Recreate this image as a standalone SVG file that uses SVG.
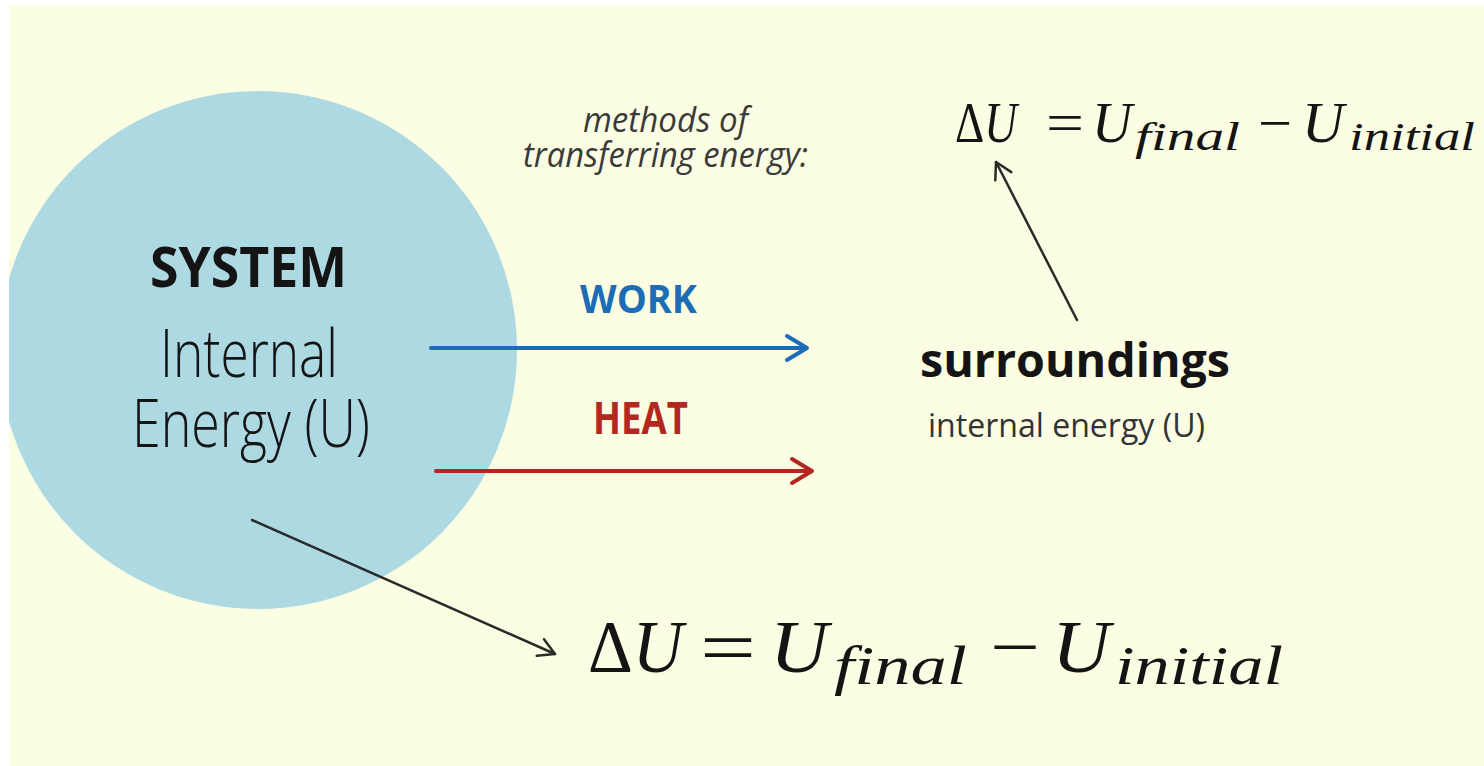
<svg xmlns="http://www.w3.org/2000/svg" width="1484" height="766" viewBox="0 0 1484 766">
<style>
.sans{font-family:"Open Sans","Liberation Sans",sans-serif}
.bold{font-weight:700}
.light{font-weight:300}
.math{font-family:"Liberation Serif","DejaVu Serif",serif}
.it{font-style:italic}
.dark{fill:#141414}
.conn{fill:none;stroke-linecap:round;stroke-linejoin:round}
</style>
<defs>
<marker id="hDark" markerWidth="8" markerHeight="10" refX="0" refY="0" orient="auto" markerUnits="userSpaceOnUse" overflow="visible">
<path d="M-16,-9 L0,0 L-16,9" fill="none" stroke="#2a2a2a" stroke-width="2.5" stroke-linecap="round" stroke-linejoin="round"/>
</marker>
</defs>
<rect x="0" y="0" width="1484" height="766" fill="#FCFEE4"/>
<g id="system">
<circle cx="258" cy="350" r="259" fill="#ADD9E2"/>
<text class="sans bold dark" x="150" y="287" font-size="56" textLength="197" lengthAdjust="spacingAndGlyphs">SYSTEM</text>
<text class="sans light dark" font-size="66"><tspan x="160" y="377" textLength="178" lengthAdjust="spacingAndGlyphs">Internal</tspan><tspan x="132" y="447" textLength="238" lengthAdjust="spacingAndGlyphs">Energy (U)</tspan></text>
</g>
<rect x="0" y="0" width="1484" height="5" fill="#ffffff"/>
<rect x="0" y="0" width="9" height="766" fill="#ffffff"/>
<g id="methods">
<text class="sans it" fill="#3a3a3a" font-size="34"><tspan x="583" y="132" textLength="165" lengthAdjust="spacingAndGlyphs">methods of</tspan><tspan x="523" y="167" textLength="285" lengthAdjust="spacingAndGlyphs">transferring energy:</tspan></text>
</g>
<g id="work-label">
<text class="sans bold" fill="#1C6DB6" x="580" y="313" font-size="40" textLength="117" lengthAdjust="spacingAndGlyphs">WORK</text>
</g>
<g id="heat-label">
<text class="sans bold" fill="#B3281E" x="593" y="434" font-size="44" textLength="95" lengthAdjust="spacingAndGlyphs">HEAT</text>
</g>
<g id="surroundings">
<text class="sans bold dark" x="920" y="377" font-size="46" textLength="310" lengthAdjust="spacingAndGlyphs">surroundings</text>
<text class="sans" fill="#333333" x="928" y="437" font-size="32" textLength="277" lengthAdjust="spacingAndGlyphs">internal energy (U)</text>
</g>
<g id="formula-top" class="math dark">
<text x="955" y="142" font-size="56" textLength="62" lengthAdjust="spacingAndGlyphs">Δ<tspan class="it">U</tspan></text>
<text x="1046" y="142" font-size="56" textLength="38" lengthAdjust="spacingAndGlyphs">=</text>
<text class="it" x="1092" y="142" font-size="56" textLength="40" lengthAdjust="spacingAndGlyphs">U</text>
<text class="it" x="1135" y="150" font-size="40" textLength="105" lengthAdjust="spacingAndGlyphs">final</text>
<text x="1258" y="142" font-size="56" textLength="34" lengthAdjust="spacingAndGlyphs">−</text>
<text class="it" x="1302" y="142" font-size="56" textLength="42" lengthAdjust="spacingAndGlyphs">U</text>
<text class="it" x="1349" y="150" font-size="40" textLength="126" lengthAdjust="spacingAndGlyphs">initial</text>
</g>
<g id="formula-bottom" class="math dark">
<text x="588" y="672" font-size="74" textLength="95" lengthAdjust="spacingAndGlyphs">Δ<tspan class="it">U</tspan></text>
<text x="700" y="672" font-size="74" textLength="56" lengthAdjust="spacingAndGlyphs">=</text>
<text class="it" x="770" y="672" font-size="74" textLength="58" lengthAdjust="spacingAndGlyphs">U</text>
<text class="it" x="834" y="684" font-size="54" textLength="133" lengthAdjust="spacingAndGlyphs">final</text>
<text x="990" y="672" font-size="74" textLength="50" lengthAdjust="spacingAndGlyphs">−</text>
<text class="it" x="1052" y="672" font-size="74" textLength="58" lengthAdjust="spacingAndGlyphs">U</text>
<text class="it" x="1115" y="684" font-size="54" textLength="168" lengthAdjust="spacingAndGlyphs">initial</text>
</g>
<g id="connectors">
<line class="conn" x1="431" y1="348" x2="806" y2="348" stroke="#1C6DB6" stroke-width="4"/>
<path class="conn" d="M787,336 L807,348 L787,360" stroke="#1C6DB6" stroke-width="4"/>
<line class="conn" x1="436" y1="471" x2="811" y2="471" stroke="#B3281E" stroke-width="4"/>
<path class="conn" d="M792,459 L812,471 L792,483" stroke="#B3281E" stroke-width="4"/>
<line class="conn" x1="252" y1="520" x2="555" y2="654" stroke="#2a2a2a" stroke-width="2.5" marker-end="url(#hDark)"/>
<line class="conn" x1="1077" y1="320" x2="996" y2="162" stroke="#2a2a2a" stroke-width="2.5" marker-end="url(#hDark)"/>
</g>
</svg>
